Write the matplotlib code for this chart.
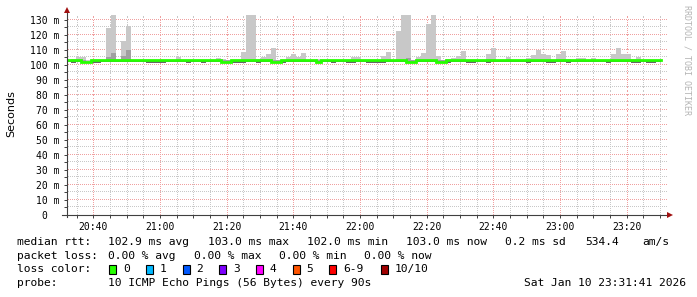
import numpy as np
import matplotlib
matplotlib.use("Agg")
import matplotlib.pyplot as plt
from matplotlib.patches import Rectangle
from matplotlib.ticker import MultipleLocator, FuncFormatter

# --------------------------
# Data (minutes after 20:00, one bin every 90 s)
# --------------------------
t_first = 31.8
step = 1.5

# top of the light smoke (ms)
smoke_hi = [
    103.5, 104.3, 105.5, 105.5, 103.0, 103.0, 103.0, 103.5, 124.5, 134.0,
    104.0, 115.7, 125.8, 103.5, 103.5, 103.5, 103.5, 103.5, 103.5, 103.5,
    103.5, 103.5, 105.0, 103.5, 103.5, 103.5, 103.5, 103.5, 103.5, 103.5,
    104.5, 104.0, 103.0, 103.5, 103.5, 108.6, 134.0, 134.0, 104.0, 105.0,
    107.5, 111.3, 103.0, 103.5, 105.0, 107.0, 105.5, 108.0, 103.5, 103.5,
    104.0, 103.5, 103.5, 103.5, 103.5, 103.5, 103.5, 105.0, 105.0, 103.5,
    103.5, 103.5, 103.5, 106.0, 108.6, 103.5, 122.4, 134.0, 134.0, 103.0,
    105.2, 107.8, 127.6, 134.0, 106.0, 103.0, 104.0, 104.5, 106.0, 109.5,
    103.5, 103.5, 103.5, 103.5, 107.0, 111.3, 103.5, 103.5, 105.0, 103.5,
    103.5, 103.5, 104.5, 106.5, 109.7, 107.5, 106.5, 103.5, 107.5, 109.5,
    104.0, 103.5, 104.5, 104.5, 103.5, 104.5, 103.5, 103.5, 103.5, 107.0,
    111.3, 107.0, 107.0, 104.0, 105.0, 103.5, 103.5, 103.5, 103.5,
]

# top of the darker inner smoke (ms)
smoke_mid = [
    103.0, 103.0, 103.0, 103.0, 102.3, 103.0, 103.0, 103.0, 105.0, 108.0,
    103.0, 106.0, 110.0, 103.0, 103.0, 103.0, 103.0, 103.0, 103.0, 103.0,
    103.0, 103.0, 103.0, 103.0, 103.0, 103.0, 103.0, 103.0, 103.0, 103.0,
    103.0, 103.0, 103.0, 103.0, 103.0, 103.0, 103.0, 103.0, 103.0, 103.0,
    103.0, 103.0, 103.0, 103.0, 103.0, 103.0, 103.0, 103.0, 103.0, 103.0,
    103.0, 103.0, 103.0, 103.0, 103.0, 103.0, 103.0, 103.0, 103.0, 103.0,
    103.0, 103.0, 103.0, 103.0, 103.0, 103.0, 103.0, 103.0, 104.5, 103.0,
    103.0, 103.0, 103.0, 103.0, 103.0, 103.0, 103.0, 103.0, 103.0, 103.0,
    103.0, 103.0, 103.0, 103.0, 103.0, 103.0, 103.0, 103.0, 103.0, 103.0,
    103.0, 103.0, 103.0, 103.0, 103.0, 103.0, 103.0, 103.0, 103.0, 103.0,
    103.0, 103.0, 103.0, 103.0, 103.0, 103.0, 103.0, 103.0, 103.0, 103.0,
    103.0, 103.0, 103.0, 103.0, 103.0, 103.0, 103.0, 103.0, 103.0,
]

# bottom of the smoke (ms)
smoke_lo = [
    102.2, 101.5, 102.2, 102.2, 101.6, 101.5, 101.5, 102.2, 102.2, 102.2,
    102.2, 102.2, 102.2, 102.2, 102.2, 102.2, 101.5, 101.5, 101.5, 101.5,
    102.2, 102.2, 102.2, 102.2, 101.5, 102.2, 102.2, 101.4, 102.2, 102.2,
    102.2, 101.6, 101.6, 101.5, 101.5, 101.5, 102.2, 102.2, 101.5, 102.2,
    102.2, 101.6, 101.6, 101.5, 102.2, 102.2, 102.2, 102.2, 102.2, 102.2,
    101.6, 102.2, 102.2, 101.5, 102.2, 102.2, 101.5, 101.5, 102.2, 102.2,
    101.5, 101.5, 101.5, 101.5, 102.2, 102.2, 102.2, 102.2, 101.5, 101.5,
    102.2, 102.2, 102.2, 102.2, 101.0, 101.0, 101.5, 102.2, 102.2, 102.2,
    101.5, 101.5, 102.2, 102.2, 101.4, 102.2, 102.2, 102.2, 102.2, 102.2,
    102.2, 102.2, 101.5, 102.2, 102.2, 102.2, 101.5, 101.5, 102.2, 102.2,
    101.5, 102.2, 102.2, 102.2, 102.2, 102.2, 102.2, 102.2, 101.4, 102.2,
    102.2, 102.2, 102.2, 101.5, 101.5, 102.2, 101.5, 101.5, 102.2,
]

# median rtt (ms)
median = [
    103.0, 103.0, 103.0, 102.3, 102.3, 103.0, 103.0, 103.0, 103.0, 103.0,
    103.0, 103.0, 103.0, 103.0, 103.0, 103.0, 103.0, 103.0, 103.0, 103.0,
    103.0, 103.0, 103.0, 103.0, 103.0, 103.0, 103.0, 103.0, 103.0, 103.0,
    103.0, 102.3, 102.3, 103.0, 103.0, 103.0, 103.0, 103.0, 103.0, 103.0,
    103.0, 102.3, 102.3, 103.0, 103.0, 103.0, 103.0, 103.0, 103.0, 103.0,
    102.3, 103.0, 103.0, 103.0, 103.0, 103.0, 103.0, 103.0, 103.0, 103.0,
    103.0, 103.0, 103.0, 103.0, 103.0, 103.0, 103.0, 103.0, 102.2, 102.2,
    103.0, 103.0, 103.0, 103.0, 101.8, 101.8, 103.0, 103.0, 103.0, 103.0,
    103.0, 103.0, 103.0, 103.0, 103.0, 103.0, 103.0, 103.0, 103.0, 103.0,
    103.0, 103.0, 103.0, 103.0, 103.0, 103.0, 103.0, 103.0, 103.0, 103.0,
    103.0, 103.0, 103.0, 103.0, 103.0, 103.0, 103.0, 103.0, 103.0, 103.0,
    103.0, 103.0, 103.0, 103.0, 103.0, 103.0, 103.0, 103.0, 103.0,
]

loss_labels = ["0", "1", "2", "3", "4", "5", "6-9", "10/10"]
loss_colors = ["#26ff00", "#00b8ff", "#0059ff", "#7e00ff",
               "#ff00ff", "#ff5500", "#ff0000", "#a00000"]

W, H = 697, 297
MONO = "DejaVu Sans Mono"


def fx(x):
    return x / W


def fy(y):
    return 1 - y / H


# --------------------------
# Figure / axes
# --------------------------
fig = plt.figure(figsize=(W / 100, H / 100), dpi=100)
fig.patch.set_facecolor("white")
ax = fig.add_axes([fx(67), fy(215), 600 / W, 200 / H])
x0, x1 = 32.1, 212.1
y0, y1 = 0, 133.33
ax.set_xlim(x0, x1)
ax.set_ylim(y0, y1)

t = t_first + step * np.arange(len(median))
hi = np.array(smoke_hi)
mid = np.array(smoke_mid)
lo = np.array(smoke_lo)
med = np.array(median)

base = np.minimum(med, 102.2)
ax.bar(t, hi - base, bottom=base, width=step, align="edge",
       color="#c8c8c8", linewidth=0, zorder=2)
ax.bar(t, mid - base, bottom=base, width=step, align="edge",
       color="#a0a0a0", linewidth=0, zorder=3)
ax.bar(t, med - lo, bottom=lo, width=step, align="edge",
       color="#666666", linewidth=0, zorder=4)

ax.step(np.append(t, t[-1] + step), np.append(med, med[-1]), where="post",
        color="#26ff00", lw=2.0, zorder=5, solid_joinstyle="miter")

# --------------------------
# Dotted grid (single pixels, every other pixel)
# --------------------------
ax.xaxis.set_major_locator(MultipleLocator(20))
ax.xaxis.set_minor_locator(MultipleLocator(5))
ax.yaxis.set_major_locator(MultipleLocator(10))
ax.yaxis.set_minor_locator(MultipleLocator(5))

dot_dx = (x1 - x0) / 600 * 2   # 2 px in minutes
dot_dy = (y1 - y0) / 200 * 2   # 2 px in ms
xs = np.arange(x0 + dot_dx / 4, x1, dot_dx)
ys = np.arange(y0 + dot_dy / 4, y1, dot_dy)
for v in np.arange(35, 215, 5):
    col = "#f0a0a0" if v % 20 == 0 else "#c8c8c8"
    ax.plot(np.full_like(ys, v), ys, ",", color=col, zorder=1)
for v in np.arange(5, 135, 5):
    col = "#f0a0a0" if v % 10 == 0 else "#c8c8c8"
    ax.plot(xs, np.full_like(xs, v), ",", color=col, zorder=1)


def xfmt(m, pos):
    m = int(round(m))
    return "%d:%02d" % (20 + m // 60, m % 60)


def yfmt(v, pos):
    v = int(round(v))
    return "0  " if v == 0 else "%d m" % v


ax.xaxis.set_major_formatter(FuncFormatter(xfmt))
ax.yaxis.set_major_formatter(FuncFormatter(yfmt))
ax.tick_params(which="both", direction="out", length=2, width=0.7,
               color="#404040", labelsize=7)
ax.tick_params(axis="x", which="major", pad=3)
ax.tick_params(axis="y", which="major", pad=3.5)
for lab in ax.get_xticklabels() + ax.get_yticklabels():
    lab.set_family(MONO)

for s in ax.spines.values():
    s.set_visible(False)

# axes with arrows
ax.plot([0, 0], [-0.012, 1.02], transform=ax.transAxes, color="#404040",
        lw=0.8, clip_on=False, zorder=6)
ax.plot([-0.009, 1.003], [0, 0], transform=ax.transAxes, color="#404040",
        lw=0.8, clip_on=False, zorder=6)
ax.plot([0.0008], [1.023], marker="^", ms=4, color="#a01010",
        transform=ax.transAxes, clip_on=False, zorder=7, mew=0)
ax.plot([1.0058], [0], marker=">", ms=4, color="#a01010",
        transform=ax.transAxes, clip_on=False, zorder=7, mew=0)

# labels
fig.text(fx(11), fy(114), "Seconds", rotation=90, ha="center", va="center",
         fontsize=8, family="DejaVu Sans")
fig.text(fx(687.5), fy(5), "RRDTOOL / TOBI OETIKER", rotation=270,
         ha="center", va="top", fontsize=6, family=MONO, color="#b4b4b4")

# --------------------------
# Legend block
# --------------------------
fs = 8.1
rows = [244.7, 258.7, 272.3, 286.3]

fig.text(fx(16.7), fy(rows[0]), "median rtt:", fontsize=fs, family=MONO, va="baseline")
for x, s in [(107.7, "102.9 ms avg"), (207.7, "103.0 ms max"),
             (306.7, "102.0 ms min"), (406.5, "103.0 ms now"),
             (504.5, "0.2 ms sd"), (585.5, "534.4"), (642.5, "am/s")]:
    fig.text(fx(x), fy(rows[0]), s, fontsize=fs, family=MONO, va="baseline")

fig.text(fx(16.7), fy(rows[1]), "packet loss:", fontsize=fs, family=MONO, va="baseline")
for x, s in [(107.7, "0.00 % avg"), (194.3, "0.00 % max"),
             (279.0, "0.00 % min"), (364.4, "0.00 % now")]:
    fig.text(fx(x), fy(rows[1]), s, fontsize=fs, family=MONO, va="baseline")

fig.text(fx(16.7), fy(rows[2]), "loss color:", fontsize=fs, family=MONO, va="baseline")
box_x = [109.3, 146.0, 182.7, 219.3, 256.0, 292.7, 329.3, 381.0]
for x, lab, col in zip(box_x, loss_labels, loss_colors):
    fig.add_artist(Rectangle((fx(x), fy(273.5)), 7 / W, 8.5 / H,
                             transform=fig.transFigure, facecolor=col,
                             edgecolor="black", lw=0.8))
    fig.text(fx(x + 13.5), fy(rows[2]), lab, fontsize=fs, family=MONO, va="baseline")

fig.text(fx(16.7), fy(rows[3]), "probe:", fontsize=fs, family=MONO, va="baseline")
fig.text(fx(107.7), fy(rows[3]), "10 ICMP Echo Pings (56 Bytes) every 90s",
         fontsize=fs, family=MONO, va="baseline")
fig.text(fx(685.7), fy(rows[3]), "Sat Jan 10 23:31:41 2026", fontsize=fs,
         family=MONO, va="baseline", ha="right")

fig.savefig("out.png", dpi=100, facecolor="white")
